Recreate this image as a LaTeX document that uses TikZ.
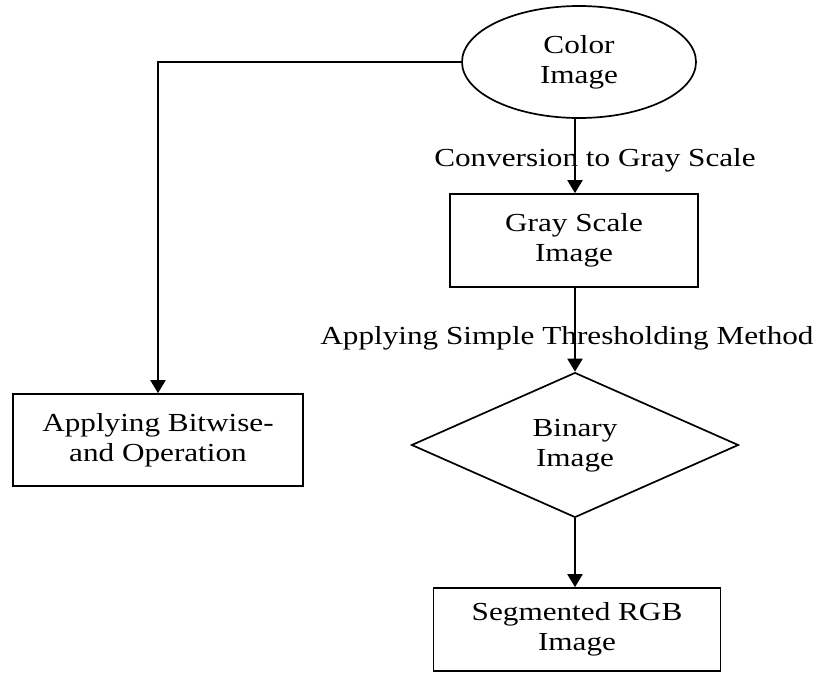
\documentclass[tikz,border=0pt]{standalone}
\usepackage{fontspec}
\setmainfont{Liberation Serif}
\usetikzlibrary{shapes.geometric,arrows.meta}
\newcommand{\tx}[1]{\scalebox{1.2}[1]{\fontsize{26}{30}\selectfont\begin{tabular}{@{}c@{}}#1\end{tabular}}}
\begin{document}
\begin{tikzpicture}[x=1pt,y=-1pt,
  shp/.style={draw, line width=1.7pt, inner sep=0pt},
  arr/.style={line width=2pt, -{Triangle[width=15pt,length=13pt]}},
  lbl/.style={inner sep=0pt, anchor=base}]
\useasboundingbox (0,0) rectangle (822,673);
\fill[white] (0,0) rectangle (822,673);
\node[shp, ellipse, minimum width=234pt, minimum height=112pt] (color) at (579,62) {\tx{Color\\Image}};
\node[shp, rectangle, minimum width=248pt, minimum height=93pt] (gray) at (574,240.5) {\tx{Gray Scale\\Image}};
\node[shp, diamond, minimum width=327pt, minimum height=144pt] (binary) at (575,445) {\tx{Binary\\Image}};
\node[shp, rectangle, minimum width=287pt, minimum height=83pt] (seg) at (577,629.5) {\tx{Segmented RGB\\Image}};
\node[shp, rectangle, minimum width=290pt, minimum height=92pt] (bit) at (158,440) {\tx{Applying Bitwise-\\and Operation}};
\coordinate (c1) at (575,118);
\draw[arr] (c1) -- (c1 |- gray.north);
\draw[arr] (gray.south -| binary.north) -- (binary.north);
\draw[arr] (binary.south) -- (binary.south |- seg.north);
\draw[arr] (color.west) -| (bit.north);
\node[lbl] (l1) at (595,167) {\tx{Conversion to Gray Scale}};
\node[lbl] (l2) at (567,345) {\tx{Applying Simple Thresholding Method}};
\end{tikzpicture}
\end{document}
